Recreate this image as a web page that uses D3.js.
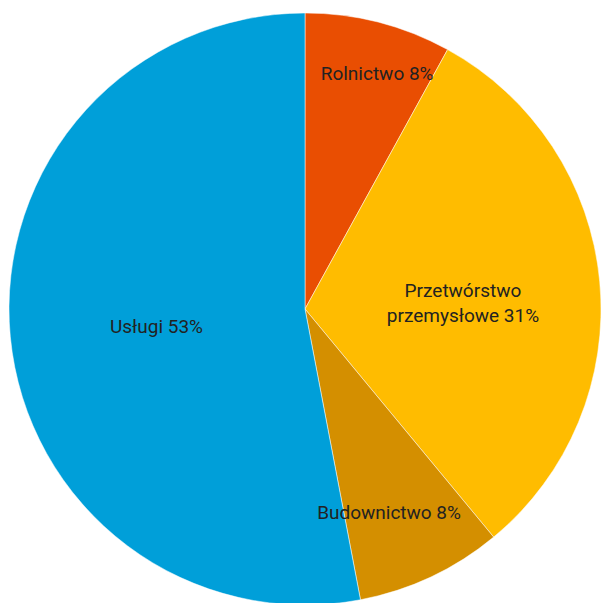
<!DOCTYPE html>
<html><head><meta charset="utf-8">
<script src="https://cdn.jsdelivr.net/npm/d3@7"></script>
<style>html,body{margin:0;padding:0;background:#fff;}svg{display:block;}</style>
</head><body>
<svg id="c" width="601" height="603"></svg>
<script>
const categories = ["Rolnictwo", "Przetwórstwo przemysłowe", "Budownictwo", "Usługi"];
const values = [8, 31, 8, 53];
const colors = ["#E94E02", "#FFBC00", "#D48F00", "#009FD9"];
// label placement: radius factor and angle offset (degrees)
const labelRadius = [0.833, 0.534, 0.742, 0.505];
const labelAngleOffset = [2.6, 3.2, 2.7, -1.1];
const labelLines = [["Rolnictwo 8%"], ["Przetwórstwo", "przemysłowe 31%"], ["Budownictwo 8%"], ["Usługi 53%"]];

const svg = d3.select("#c");
const cx = 305, cy = 309, R = 296;
const g = svg.append("g").attr("transform", `translate(${cx},${cy})`);
const data = categories.map((c, i) => ({c, v: values[i], i}));
const pie = d3.pie().value(d => d.v).sort(null);
const arcs = pie(data);
const arc = d3.arc().innerRadius(0).outerRadius(R);
g.selectAll("path").data(arcs).join("path")
  .attr("d", arc).attr("fill", d => colors[d.data.i])
  .attr("stroke", "#fff").attr("stroke-width", 0.5);

const lab = g.selectAll("text").data(arcs).join("text")
  .attr("font-family", "Roboto, sans-serif").attr("font-size", 19).attr("fill", "#222")
  .attr("text-anchor", "middle")
  .attr("transform", d => {
    const i = d.data.i;
    const a = (d.startAngle + d.endAngle) / 2 + labelAngleOffset[i] * Math.PI / 180;
    const r = R * labelRadius[i];
    return `translate(${r * Math.sin(a)},${-r * Math.cos(a)})`;
  });
lab.each(function(d) {
  const lines = labelLines[d.data.i];
  const n = lines.length;
  d3.select(this).selectAll("tspan").data(lines).join("tspan")
    .attr("x", 0).attr("dy", (l, j) => j === 0 ? `${0.35 - (n - 1) * 0.65}em` : "1.3em")
    .text(l => l);
});
</script>
</body></html>
